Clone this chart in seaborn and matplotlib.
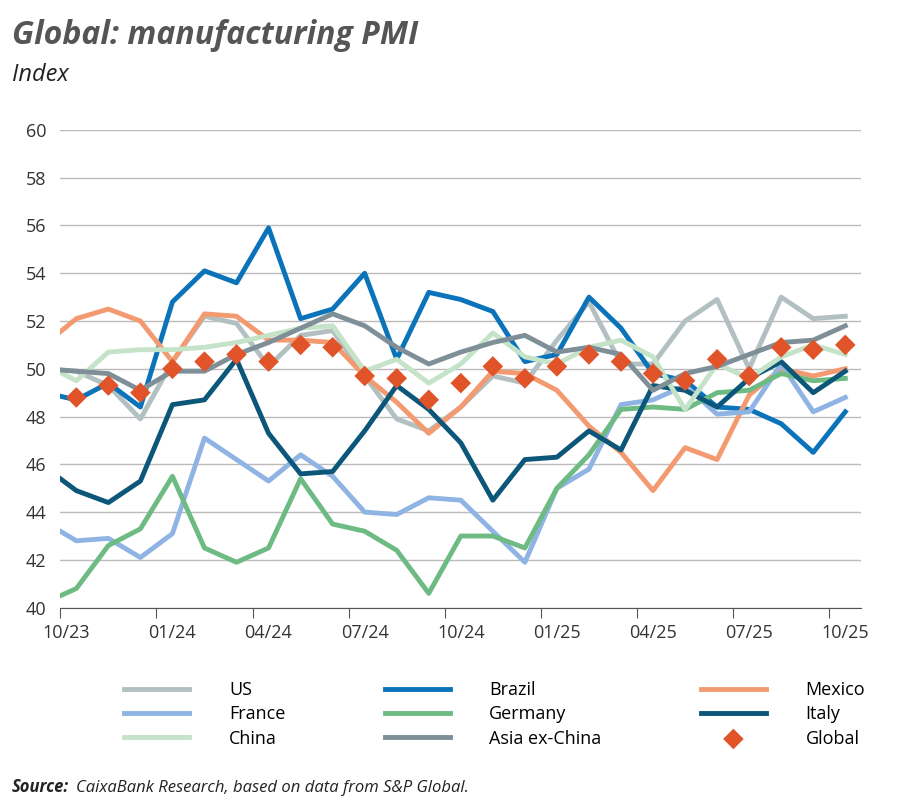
import matplotlib
matplotlib.use("Agg")
import matplotlib.pyplot as plt
import seaborn as sns
import pandas as pd
import numpy as np

months = ["09/23","10/23","11/23","12/23","01/24","02/24","03/24","04/24","05/24","06/24","07/24","08/24","09/24",
          "10/24","11/24","12/24","01/25","02/25","03/25","04/25","05/25","06/25","07/25","08/25","09/25","10/25"]
us      = [50.0,49.9,49.3,47.9,50.3,52.2,51.9,50.1,51.4,51.6,49.7,47.9,47.4,48.4,49.7,49.4,51.2,52.8,50.2,50.2,52.0,52.9,50.0,53.0,52.1,52.2]
brazil  = [49.0,48.7,49.4,48.4,52.8,54.1,53.6,55.9,52.1,52.5,54.0,50.4,53.2,52.9,52.4,50.3,50.6,53.0,51.7,49.8,49.5,48.4,48.3,47.7,46.5,48.2]
mexico  = [51.0,52.1,52.5,52.0,50.3,52.3,52.2,51.2,51.2,51.1,49.7,48.6,47.3,48.4,49.9,49.8,49.1,47.6,46.5,44.9,46.7,46.2,48.9,50.0,49.7,50.0]
france  = [43.6,42.8,42.9,42.1,43.1,47.1,46.2,45.3,46.4,45.5,44.0,43.9,44.6,44.5,43.2,41.9,45.0,45.8,48.5,48.7,49.3,48.1,48.2,50.2,48.2,48.8]
germany = [40.2,40.8,42.6,43.3,45.5,42.5,41.9,42.5,45.4,43.5,43.2,42.4,40.6,43.0,43.0,42.5,45.0,46.4,48.3,48.4,48.3,49.0,49.1,49.8,49.5,49.6]
italy   = [45.9,44.9,44.4,45.3,48.5,48.7,50.4,47.3,45.6,45.7,47.4,49.3,48.3,46.9,44.5,46.2,46.3,47.4,46.6,49.3,49.1,48.4,49.6,50.3,49.0,49.9]
china   = [50.2,49.5,50.7,50.8,50.8,50.9,51.1,51.4,51.7,51.8,49.9,50.4,49.4,50.2,51.5,50.5,50.2,50.9,51.2,50.5,48.3,50.2,49.6,50.5,51.0,50.6]
asia    = [50.0,49.9,49.8,49.1,49.9,49.9,50.6,51.1,51.7,52.3,51.8,50.9,50.2,50.7,51.1,51.4,50.7,50.9,50.6,49.1,49.8,50.1,50.6,51.1,51.2,51.8]
glob    = [np.nan,48.8,49.3,49.0,50.0,50.3,50.6,50.3,51.0,50.9,49.7,49.6,48.7,49.4,50.1,49.6,50.1,50.6,50.3,49.8,49.5,50.4,49.7,50.9,50.8,51.0]

series = [("US", us, "#b3c0c2"), ("Brazil", brazil, "#0b73b9"), ("Mexico", mexico, "#f39a70"),
          ("France", france, "#8fb4e3"), ("Germany", germany, "#6dbb83"), ("Italy", italy, "#0b5679"),
          ("China", china, "#c4e3c9"), ("Asia ex-China", asia, "#7f8f97")]

x = np.arange(len(months)) - 1
plt.rcParams['font.family'] = ['Open Sans', 'DejaVu Sans']
fig = plt.figure(figsize=(9, 8.07), dpi=100)
ax = fig.add_axes([0.067, 0.247, 0.89, 0.592])

for name, vals, col in series:
    df = pd.DataFrame({"x": x, "y": vals})
    sns.lineplot(data=df, x="x", y="y", ax=ax, color=col, lw=3.5, label=name, clip_on=True)
dg = pd.DataFrame({"x": x, "y": glob})
sns.scatterplot(data=dg, x="x", y="y", ax=ax, color="#e1542a", marker="D", s=110,
                edgecolor="none", zorder=5, label="Global")

ax.set_xlim(-0.5, 24.5)
ax.set_ylim(40, 60)
ax.set_yticks(range(40, 61, 2))
ax.set_xticks(np.arange(-0.5, 24.6, 3))
ax.set_xticklabels([])
for i in range(0, 25, 3):
    xp = -0.3 if i == 0 else i
    ax.text(xp, -0.035, months[i+1], transform=ax.get_xaxis_transform(), ha="center", va="top",
            fontsize=13, color="#333333")
ax.tick_params(axis="x", length=7, color="#555555", direction="out")
ax.tick_params(axis="y", length=0, labelsize=13, labelcolor="#333333", pad=10)
ax.grid(axis="y", color="#bbbbbb", lw=1)
ax.set_axisbelow(True)
for s in ["top", "right", "left"]:
    ax.spines[s].set_visible(False)
ax.spines["bottom"].set_color("#555555")
ax.set_xlabel(""); ax.set_ylabel("")

h, l = ax.get_legend_handles_labels()
ax.get_legend().remove()
d = dict(zip(l, h))
order = ["US", "France", "China", "Brazil", "Germany", "Asia ex-China", "Mexico", "Italy", "Global"]
fig.legend([d[o] for o in order], order, loc="upper left", bbox_to_anchor=(0.13, 0.165), ncol=3,
           frameon=False, fontsize=13, handlelength=3.6, handletextpad=2.2, columnspacing=5.5,
           labelspacing=0.35, borderaxespad=0)

fig.text(0.013, 0.945, "Global: manufacturing PMI", fontsize=23, fontweight="bold", fontstyle="italic",
         color="#555555")
fig.text(0.013, 0.9, "Index", fontsize=17, fontstyle="italic", color="#222222")
fig.text(0.013, 0.018, "Source:", fontsize=12, fontweight="bold", fontstyle="italic", color="#222222")
fig.text(0.085, 0.018, "CaixaBank Research, based on data from S&P Global.", fontsize=12,
         fontstyle="italic", color="#222222")
fig.savefig("out.png", dpi=100)
